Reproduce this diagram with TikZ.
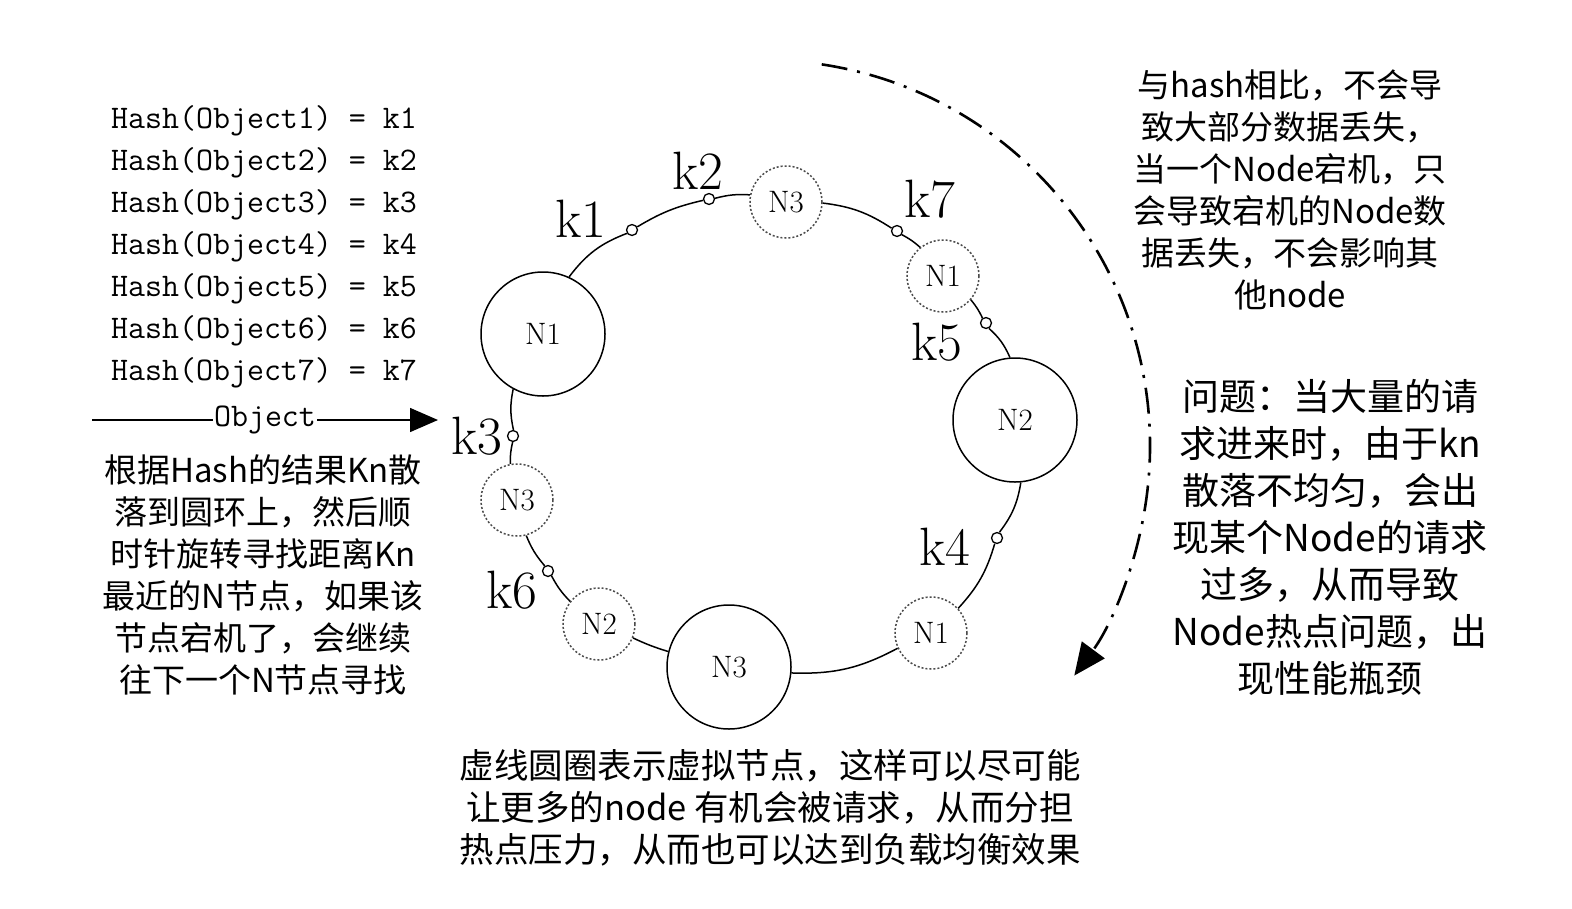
\documentclass[tikz,border=0pt]{standalone}
\usepackage{fontspec}
\newfontfamily\cjk{Noto Sans CJK SC}
\usetikzlibrary{arrows.meta}

\begin{document}
\begin{tikzpicture}[x=1pt, y=1pt, line width=1.5pt, >={Triangle[length=28pt, width=24pt]},
    bignode/.style={draw, circle, fill=white, minimum size=124pt, inner sep=0pt, font=\fontsize{31}{31}\selectfont},
    virtnode/.style={draw=black!70, circle, fill=white, minimum size=72pt, inner sep=0pt, dash pattern=on 2pt off 2pt, font=\fontsize{31}{31}\selectfont},
    keydot/.style={draw, circle, fill=white, minimum size=11pt, inner sep=0pt, line width=1.3pt},
    keylabel/.style={font=\fontsize{54}{54}\selectfont},
    note/.style={align=center, font=\cjk\fontsize{33}{42}\selectfont}]
        \useasboundingbox (0,0) rectangle (1572,-908);
        \coordinate (ring) at (764,-446);

        \node[bignode] (N1a) at (543,-334) {N1};
        \node[virtnode] (N3a) at (786,-202) {N3};
        \node[virtnode] (N1b) at (943,-276) {N1};
        \node[bignode] (N2a) at (1015,-420) {N2};
        \node[virtnode] (N1c) at (931,-633) {N1};
        \node[bignode] (N3b) at (729,-667) {N3};
        \node[virtnode] (N2b) at (599,-624) {N2};
        \node[virtnode] (N3c) at (517,-500) {N3};

        \node[keydot] (k1) at (632,-230) {};
        \node[keydot] (k2) at (709,-199) {};
        \node[keydot] (k7) at (897,-231) {};
        \node[keydot] (k5) at (986,-323) {};
        \node[keydot] (k4) at (997,-538) {};
        \node[keydot] (k6) at (548,-571) {};
        \node[keydot] (k3) at (513,-436) {};

        \node[keylabel] (lk1) at (581,-219) {k1};
        \node[keylabel] (lk2) at (698,-171) {k2};
        \node[keylabel] (lk7) at (930,-199) {k7};
        \node[keylabel] (lk5) at (937,-342) {k5};
        \node[keylabel] (lk4) at (945,-547) {k4};
        \node[keylabel] (lk6) at (512,-590) {k6};
        \node[keylabel] (lk3) at (477,-436) {k3};

        \draw (N1a) to[bend left=16] (k1);
        \draw (k1) to[bend left=9] (k2);
        \draw (k2) to[bend left=9] (N3a);
        \draw (N3a) to[bend left=13] (k7);
        \draw (k7) to[bend left=7] (N1b);
        \draw (N1b) to[bend left=7] (k5);
        \draw (k5) to[bend left=12] (N2a);
        \draw (N2a) to[bend left=14] (k4);
        \draw (k4) to[bend left=13] (N1c);
        \draw (N1c) to[bend left=15] (N3b);
        \draw (N3b) to[bend left=4] (N2b);
        \draw (N2b) to[bend left=8] (k6);
        \draw (k6) to[bend left=9] (N3c);
        \draw (N3c) to[bend left=7] (k3);
        \draw (k3) to[bend left=12] (N1a);

        \node[align=left, font=\ttfamily\fontsize{33}{42}\selectfont] (hash) at (264,-247)
            {Hash(Object1) = k1\\Hash(Object2) = k2\\Hash(Object3) = k3\\Hash(Object4) = k4\\Hash(Object5) = k5\\Hash(Object6) = k6\\Hash(Object7) = k7};
        \coordinate (objstart) at (92,-420);
        \coordinate (objend) at (438,-420);
        \draw[->] (objstart) -- node[fill=white, inner sep=1pt, font=\ttfamily\fontsize{33}{33}\selectfont]{Object} (objend);

        \node[note] (lefttext) at (263,-575)
            {根据Hash的结果Kn散\\落到圆环上，然后顺\\时针旋转寻找距离Kn\\最近的N节点，如果该\\节点宕机了，会继续\\往下一个N节点寻找};
        \node[note] (toptext) at (1290,-190)
            {与hash相比，不会导\\致大部分数据丢失，\\当一个Node宕机，只\\会导致宕机的Node数\\据丢失，不会影响其\\他node};
        \node[note, font=\cjk\fontsize{37}{47}\selectfont] (hottext) at (1330,-537)
            {问题：当大量的请\\求进来时，由于kn\\散落不均匀，会出\\现某个Node的请求\\过多，从而导致\\Node热点问题，出\\现性能瓶颈};
        \node[note, font=\cjk\fontsize{34.5}{42}\selectfont] (bottomtext) at (770,-808)
            {虚线圆圈表示虚拟节点，这样可以尽可能\\让更多的node 有机会被请求，从而分担\\热点压力，从而也可以达到负载均衡效果};

        \draw[line width=2.6pt, dash pattern=on 26pt off 10pt on 3pt off 10pt, -{Triangle[length=32pt, width=28pt]}]
            ([shift={(81.4:386)}]ring) arc[start angle=81.4, end angle=-36.5, radius=386];
\end{tikzpicture}
\end{document}
